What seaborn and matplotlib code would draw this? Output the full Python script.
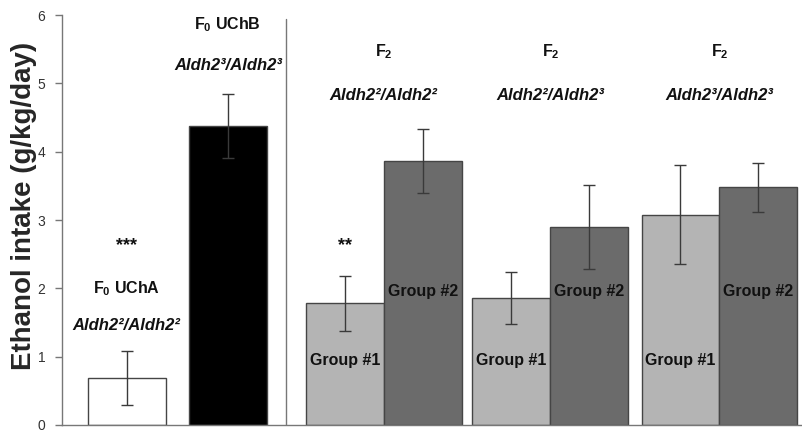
import numpy as np
import pandas as pd
import matplotlib.pyplot as plt
import seaborn as sns

# Datos
bar_ids = ["UChA", "UChB", "F2_22_g1", "F2_22_g2", "F2_23_g1", "F2_23_g2", "F2_33_g1", "F2_33_g2"]
intake = [0.69, 4.38, 1.78, 3.87, 1.86, 2.90, 3.08, 3.48]
sem = [0.40, 0.47, 0.40, 0.47, 0.38, 0.62, 0.72, 0.36]
genotypes = ["Aldh2²/Aldh2²", "Aldh2³/Aldh2³", "Aldh2²/Aldh2²", "Aldh2²/Aldh2³", "Aldh2³/Aldh2³"]

# Separación entre barras (en anchos de barra)
gaps = [1.3, 1.5, 1.0, 1.14, 1.0, 1.17, 1.0]
pos = np.concatenate([[0.0], np.cumsum(gaps)])

colors = ["#ffffff", "#000000", "#b4b4b4", "#6b6b6b", "#b4b4b4", "#6b6b6b", "#b4b4b4", "#6b6b6b"]

df = pd.DataFrame({"bar": bar_ids, "pos": pos, "intake": intake, "sem": sem})

sns.set_style("white")
plt.rcParams['font.family'] = ['Liberation Sans', 'DejaVu Sans']
plt.rcParams['mathtext.fontset'] = 'custom'
plt.rcParams['mathtext.bf'] = 'Liberation Sans:bold'
plt.rcParams['mathtext.rm'] = 'Liberation Sans'

fig = plt.figure(figsize=(8.02, 4.33), dpi=100)
ax = fig.add_axes([0.0773, 0.0185, 0.9217, 0.9465])

sns.barplot(data=df, x="pos", y="intake", hue="bar", palette=colors, native_scale=True,
            dodge=False, width=1.0, edgecolor="#454545", linewidth=1.0, legend=False, ax=ax)
ax.errorbar(df["pos"], df["intake"], yerr=df["sem"], fmt="none", ecolor="#3a3a3a",
            elinewidth=1.0, capsize=4, capthick=1.0)

ax.set_xlim(pos[0] - 0.83, pos[-1] + 0.55)
ax.set_ylim(0, 6)
ax.set_yticks(range(0, 7))
ax.set_xticks([])
ax.set_xlabel("")
ax.set_ylabel("Ethanol intake (g/kg/day)", fontsize=20, fontweight="bold")
ax.yaxis.set_label_coords(-0.034, 0.535)
ax.tick_params(axis="y", direction="out", length=5, width=1, color="#777777", pad=7,
               labelsize=10, labelcolor="#333333", left=True)
for side in ["top", "right"]:
    ax.spines[side].set_visible(False)
for side in ["left", "bottom"]:
    ax.spines[side].set_color("#777777")
    ax.spines[side].set_linewidth(1.0)

# Línea separadora entre F0 y F2
ax.axvline((pos[1] + pos[2]) / 2, ymin=0, ymax=0.99, color="#777777", lw=1.0)

tk = dict(ha="center", va="center", fontweight="bold", fontsize=11.5, color="#111111")
gk = dict(ha="center", va="center", fontweight="bold", fontstyle="italic", fontsize=12, color="#111111")
sk = dict(ha="center", va="center", fontweight="bold", fontsize=13, color="#111111")

# F0
ax.text(pos[0], 2.62, "***", **sk)
ax.text(pos[0], 2.0, r"F$_\mathbf{0}$ UChA", **tk)
ax.text(pos[0], 1.46, genotypes[0], **gk)
ax.text(pos[1], 5.86, r"F$_\mathbf{0}$ UChB", **tk)
ax.text(pos[1], 5.27, genotypes[1], **gk)

# F2
for k, i in enumerate([2, 4, 6]):
    mid = (pos[i] + pos[i + 1]) / 2
    ax.text(mid, 5.46, r"F$_\mathbf{2}$", **tk)
    ax.text(mid, 4.83, genotypes[k + 2], **gk)
    ax.text(pos[i], 0.95, "Group #1", **tk)
    ax.text(pos[i + 1], 1.96, "Group #2", **tk)
ax.text(pos[2], 2.62, "**", **sk)

fig.savefig("out.png", dpi=100)
plt.close(fig)
